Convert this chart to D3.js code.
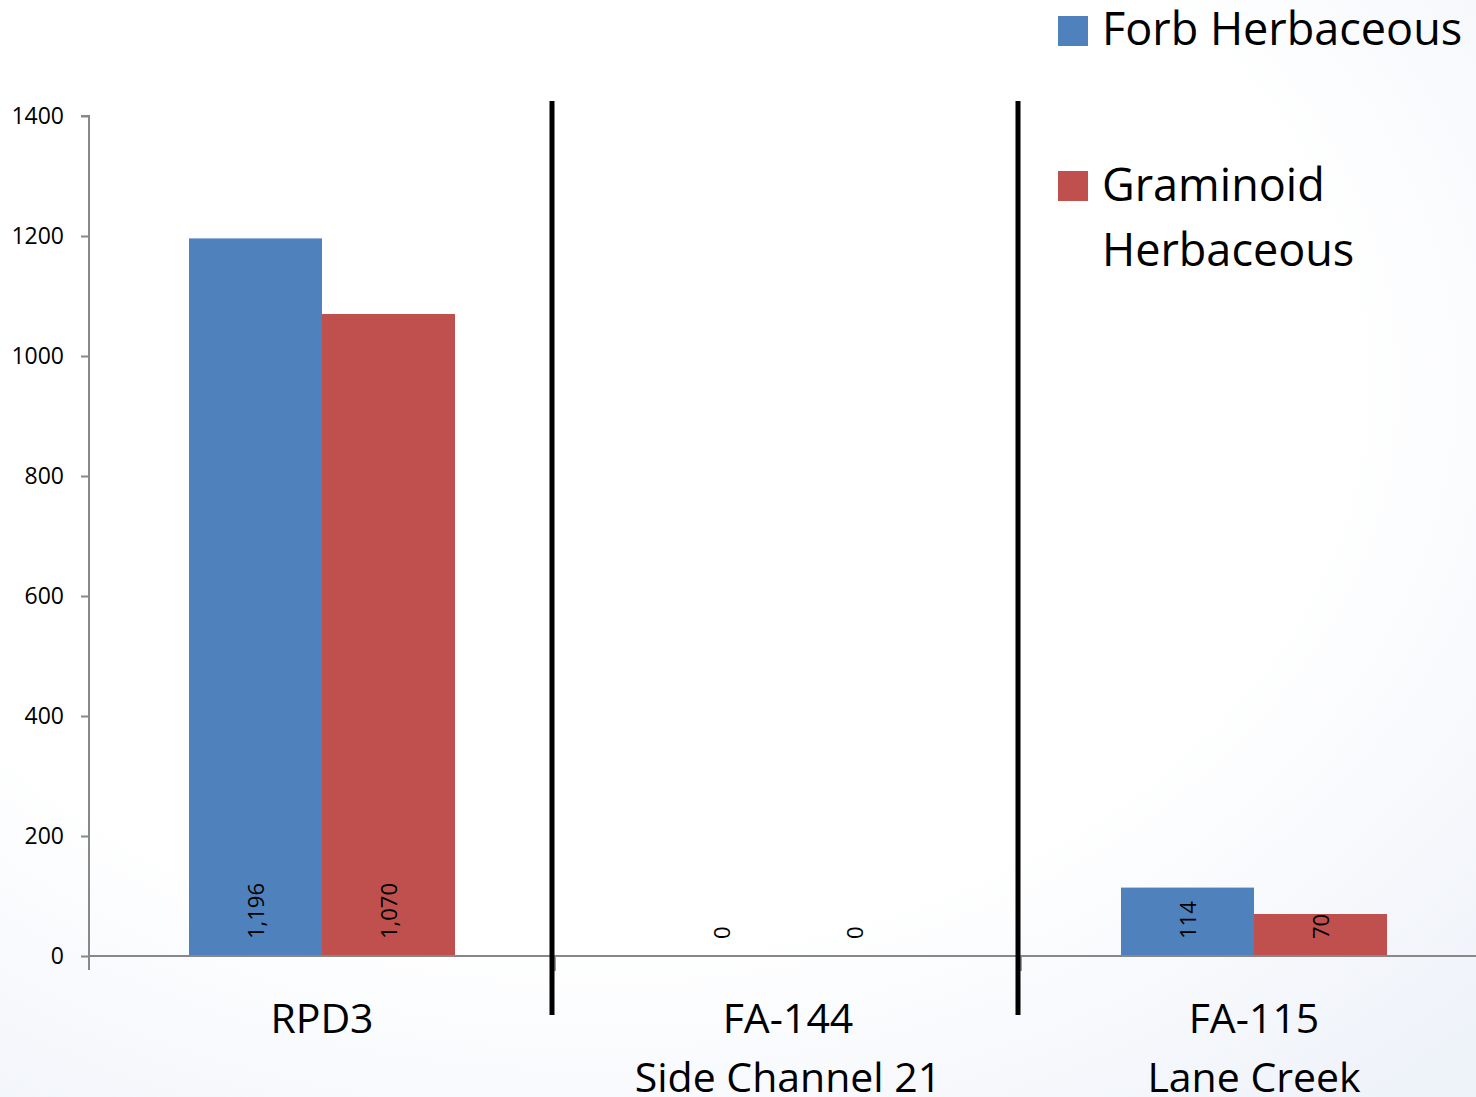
<!DOCTYPE html>
<html>
<head>
<meta charset="utf-8">
<script src="https://cdn.jsdelivr.net/npm/d3@7"></script>
<style>
  html, body { margin: 0; padding: 0; background: #fff; }
  svg { display: block; font-family: "Open Sans", "Liberation Sans", sans-serif; }
</style>
</head>
<body>
<svg id="chart" width="1476" height="1097"></svg>
<script>
// ---- data ----
const categories = ["RPD3", "FA-144|Side Channel 21", "FA-115|Lane Creek"];
const seriesNames = ["Forb Herbaceous", "Graminoid Herbaceous"];
const forbValues = [1196, 0, 114];
const graminoidValues = [1070, 0, 70];
const yTicks = [0, 200, 400, 600, 800, 1000, 1200, 1400];
const valueLabels = [["1,196", "0", "114"], ["1,070", "0", "70"]];
const colors = ["#4f81bd", "#c0504d"];

// ---- layout ----
const W = 1476, H = 1097;
const svg = d3.select("#chart");

// subtle background
const defs = svg.append("defs");
const rg = defs.append("radialGradient").attr("id", "bg")
  .attr("cx", "0.4").attr("cy", "0.35").attr("r", "0.85");
rg.append("stop").attr("offset", "0.6").attr("stop-color", "#ffffff");
rg.append("stop").attr("offset", "1").attr("stop-color", "#eef2f9");
svg.append("rect").attr("width", W).attr("height", H).attr("fill", "url(#bg)");

const x0 = 89, yBottom = 956, yTop = 116;
const x = d3.scaleBand().domain(categories).range([x0, x0 + 3 * 466]).paddingInner(0).paddingOuter(0);
const xs = d3.scaleBand().domain([0, 1]).range([100, 466 - 100]);
const y = d3.scaleLinear().domain([0, 1400]).range([yBottom, yTop]);

const series = [forbValues, graminoidValues];

// y axis
const yAxis = svg.append("g").attr("transform", `translate(${x0},0)`)
  .call(d3.axisLeft(y).tickValues(yTicks).tickSize(8).tickPadding(17).tickFormat(d3.format("d")));
yAxis.select(".domain").attr("stroke", "#888").attr("stroke-width", 2).attr("d", `M-8,${yTop}H0V${yBottom + 14}`);
yAxis.selectAll(".tick line").attr("stroke", "#888").attr("stroke-width", 2);
yAxis.selectAll(".tick text").attr("font-size", 23).attr("fill", "#000")
  .attr("font-family", "'Open Sans', sans-serif");

// bars
categories.forEach((c, ci) => {
  series.forEach((vals, si) => {
    const bx = x(c) + xs(si);
    svg.append("rect")
      .attr("x", bx).attr("width", xs.bandwidth())
      .attr("y", y(vals[ci])).attr("height", y(0) - y(vals[ci]))
      .attr("fill", colors[si]);
    const cx = bx + xs.bandwidth() / 2;
    svg.append("text")
      .attr("transform", `translate(${cx + 8},${yBottom - 17}) rotate(-90)`)
      .attr("font-size", 22).attr("fill", "#000")
      .text(valueLabels[si][ci]);
  });
});

// x axis line
svg.append("line").attr("x1", x0).attr("x2", W).attr("y1", yBottom).attr("y2", yBottom)
  .attr("stroke", "#888").attr("stroke-width", 2);
// x ticks at band boundaries
categories.slice(1).forEach(c => {
  svg.append("line").attr("x1", x(c)).attr("x2", x(c)).attr("y1", yBottom).attr("y2", yBottom + 15)
    .attr("stroke", "#999").attr("stroke-width", 2);
});

// black separators
categories.slice(1).forEach(c => {
  svg.append("line").attr("x1", x(c) - 3).attr("x2", x(c) - 3).attr("y1", 101).attr("y2", 1015)
    .attr("stroke", "#000").attr("stroke-width", 5);
});

// category labels
categories.forEach(c => {
  const lines = c.split("|");
  const t = svg.append("text").attr("text-anchor", "middle").attr("font-size", 41).attr("fill", "#000")
    .attr("x", x(c) + x.bandwidth() / 2).attr("y", 1033);
  lines.forEach((l, i) => {
    t.append("tspan").attr("x", x(c) + x.bandwidth() / 2).attr("dy", i === 0 ? 0 : 59).text(l);
  });
});

// legend
const legend = [
  { name: ["Forb Herbaceous"], sq: 16, base: 45 },
  { name: ["Graminoid", "Herbaceous"], sq: 171, base: 201 }
];
legend.forEach((lg, i) => {
  svg.append("rect").attr("x", 1058).attr("y", lg.sq).attr("width", 30).attr("height", 30).attr("fill", colors[i]);
  const t = svg.append("text").attr("font-size", 45).attr("fill", "#000").attr("x", 1102).attr("y", lg.base)
    .attr("textLength", null);
  lg.name.forEach((l, j) => t.append("tspan").attr("x", 1102).attr("dy", j === 0 ? 0 : 65).text(l));
});
</script>
</body>
</html>
